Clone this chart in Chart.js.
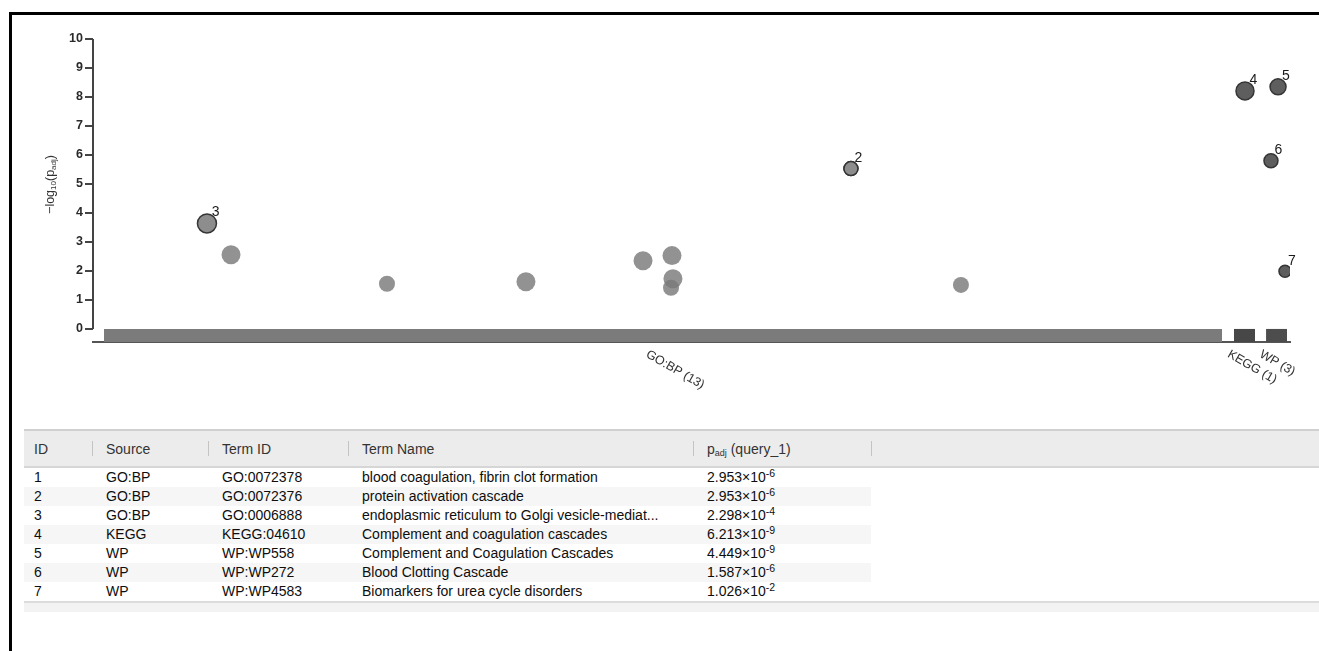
<!DOCTYPE html>
<html>
<head>
<meta charset="utf-8">
<script src="https://cdn.jsdelivr.net/npm/chart.js@4.4.1/dist/chart.umd.min.js"></script>
<style>
html, body { margin: 0; padding: 0; background: #fff; }
body { width: 1319px; height: 651px; position: relative; overflow: hidden; font-family: "Liberation Sans", Arial, Helvetica, sans-serif; }
#frameTop { position: absolute; left: 9px; top: 12px; right: 0; height: 3px; background: #000; }
#frameLeft { position: absolute; left: 9px; top: 12px; bottom: 0; width: 3px; background: #000; }
#chartBox { position: absolute; left: 0; top: 0; width: 1319px; height: 420px; }
#tbl { position: absolute; left: 24px; top: 429px; width: 1295px; border-collapse: collapse; font-size: 14px; color: #0e0e0e; table-layout: fixed; }
#tbl th { background: #ececec; font-weight: normal; color: #333; text-align: left; height: 35px; padding: 0 0 0 14px; border-top: 2px solid #d0d0d0; border-bottom: 2px solid #d6d6d6; position: relative; }
#tbl th.sep::before { content: ''; position: absolute; left: 0; top: 10px; bottom: 10px; border-left: 1px solid #c4c4c4; }
#tbl td { height: 19px; line-height: 17px; padding: 0 0 0 14px; white-space: nowrap; }
#tbl th:first-child, #tbl td:first-child { padding-left: 10px; }
#tbl tr.odd td.c { background: #f6f6f6; }
#tbl tr:last-child td { border-bottom: 2px solid #dcdcdc; }
#tbl sup { font-size: 10.5px; vertical-align: 5px; line-height: 0; }
#tbl sub { font-size: 9px; vertical-align: -2px; line-height: 0; }
#band { position: absolute; left: 24px; right: 0; height: 9px; background: #f3f3f3; }
</style>
</head>
<body>
<div id="frameTop"></div>
<div id="frameLeft"></div>
<div id="chartBox"><canvas id="manhattan" width="1319" height="420"></canvas></div>
<table id="tbl">
  <colgroup>
    <col style="width:68px"><col style="width:116px"><col style="width:140px"><col style="width:345px"><col style="width:178px"><col>
  </colgroup>
  <thead><tr id="headRow"></tr></thead>
  <tbody id="tblBody"></tbody>
</table>
<div id="band"></div>
<script>
// sources along the x axis (positions in % of axis length)
var sourceNames = ['GO:BP (13)', 'KEGG (1)', 'WP (3)'];
var sourceStart = [0.92, 95.32, 98.00];
var sourceEnd = [94.32, 97.08, 99.75];

// unlabelled GO:BP terms
var goX = [11.53, 24.56, 36.17, 45.95, 48.37, 48.45, 48.29, 72.51];
var goY = [2.56, 1.56, 1.63, 2.35, 2.53, 1.73, 1.42, 1.52];
var goSize = [9.5, 8, 9.5, 9.5, 9.5, 9.5, 8, 8];

// highlighted terms (IDs 1..7)
var termIds = ['1', '2', '3', '4', '5', '6', '7'];
var termX = [63.32, 63.32, 9.52, 96.24, 99.00, 98.41, 99.58];
var termY = [5.53, 5.53, 3.64, 8.21, 8.35, 5.80, 1.99];
var termSize = [7, 7, 9.5, 9, 8, 7, 6];
var termSource = ['GO:BP', 'GO:BP', 'GO:BP', 'KEGG', 'WP', 'WP', 'WP'];
var termId = ['GO:0072378', 'GO:0072376', 'GO:0006888', 'KEGG:04610', 'WP:WP558', 'WP:WP272', 'WP:WP4583'];
var termName = ['blood coagulation, fibrin clot formation', 'protein activation cascade',
    'endoplasmic reticulum to Golgi vesicle-mediat...', 'Complement and coagulation cascades',
    'Complement and Coagulation Cascades', 'Blood Clotting Cascade', 'Biomarkers for urea cycle disorders'];
var padjMant = ['2.953', '2.953', '2.298', '6.213', '4.449', '1.587', '1.026'];
var padjExp = ['-6', '-6', '-4', '-9', '-9', '-6', '-2'];

var yTicks = [0, 1, 2, 3, 4, 5, 6, 7, 8, 9, 10];
var headers = ['ID', 'Source', 'Term ID', 'Term Name', 'p<sub>adj</sub> (query_1)', ''];

var sourceColor = ['#7b7b7b', '#474747', '#4d4d4d'];

// ---- table
var head = document.getElementById('headRow');
headers.forEach(function (h, i) {
    var th = document.createElement('th');
    if (i > 0) th.className = 'sep';
    th.innerHTML = h;
    head.appendChild(th);
});
var body = document.getElementById('tblBody');
termIds.forEach(function (id, i) {
    var tr = document.createElement('tr');
    if (i % 2 === 1) tr.className = 'odd';
    var cells = [id, termSource[i], termId[i], termName[i], padjMant[i] + '×10<sup>' + padjExp[i] + '</sup>'];
    cells.forEach(function (c) {
        var td = document.createElement('td');
        td.className = 'c';
        td.innerHTML = c;
        tr.appendChild(td);
    });
    tr.appendChild(document.createElement('td'));
    body.appendChild(tr);
});
var tb = document.getElementById('tbl');
document.getElementById('band').style.top = (tb.offsetTop + tb.offsetHeight) + 'px';

// ---- chart
var FONT = '"Liberation Sans", Arial, sans-serif';
var datasets = [];

datasets.push({
    label: 'highlighted',
    data: termX.map(function (x, i) { return { x: x, y: termY[i] }; }),
    pointRadius: termSize,
    backgroundColor: termSource.map(function (s) { return s === 'GO:BP' ? '#8d8d8d' : '#5e5e5e'; }),
    borderColor: '#353535',
    borderWidth: 1.5
});
datasets.push({
    label: 'GO:BP',
    data: goX.map(function (x, i) { return { x: x, y: goY[i] }; }),
    pointRadius: goSize,
    backgroundColor: 'rgba(122,122,122,0.82)',
    borderWidth: 0
});
sourceNames.forEach(function (s, i) {
    datasets.push({
        type: 'line',
        label: s,
        data: [{ x: sourceStart[i], y: 0 }, { x: sourceEnd[i], y: 0 }],
        showLine: true,
        borderWidth: 0,
        pointRadius: 0,
        backgroundColor: sourceColor[i],
        fill: { value: -0.45 }
    });
});

var decorations = {
    id: 'decorations',
    afterDatasetsDraw: function (chart) {
        var ctx = chart.ctx, x = chart.scales.x, y = chart.scales.y, area = chart.chartArea;
        ctx.save();
        // y axis line from 0 to 10
        ctx.strokeStyle = '#444';
        ctx.lineWidth = 2;
        ctx.beginPath();
        ctx.moveTo(area.left, y.getPixelForValue(0));
        ctx.lineTo(area.left, y.getPixelForValue(10));
        ctx.stroke();

        // term id labels
        var meta = chart.getDatasetMeta(0);
        ctx.fillStyle = '#1a1a1a';
        ctx.font = '14px ' + FONT;
        ctx.textAlign = 'left';
        ctx.textBaseline = 'bottom';
        meta.data.forEach(function (el, i) {
            for (var j = i + 1; j < termX.length; j++) {
                if (termX[j] === termX[i] && termY[j] === termY[i]) return;
            }
            var r = termSize[i];
            ctx.fillText(termIds[i], el.x + r * 0.5, el.y - r * 0.45);
        });

        // source labels, rotated
        ctx.fillStyle = '#333';
        ctx.font = '12.5px ' + FONT;
        ctx.textBaseline = 'top';
        sourceNames.forEach(function (s, i) {
            var cx = x.getPixelForValue((sourceStart[i] + sourceEnd[i]) / 2);
            ctx.save();
            ctx.translate(cx - 13, area.bottom + 6);
            ctx.rotate(30 * Math.PI / 180);
            ctx.fillText(s, 0, 0);
            ctx.restore();
        });

        // y axis title: -log10(padj)
        ctx.save();
        ctx.translate(51, (area.top + area.bottom) / 2 - 6);
        ctx.rotate(-Math.PI / 2);
        var parts = [['−log', 12.5, 0], ['10', 8, 3], ['(p', 12.5, 0], ['adj', 8, 3], [')', 12.5, 0]];
        var total = 0;
        parts.forEach(function (p) { ctx.font = p[1] + 'px ' + FONT; total += ctx.measureText(p[0]).width; });
        var pos = -total / 2;
        ctx.textAlign = 'left';
        ctx.textBaseline = 'middle';
        ctx.fillStyle = '#333';
        parts.forEach(function (p) {
            ctx.font = p[1] + 'px ' + FONT;
            ctx.fillText(p[0], pos, p[2]);
            pos += ctx.measureText(p[0]).width;
        });
        ctx.restore();
        ctx.restore();
    }
};

new Chart(document.getElementById('manhattan'), {
    type: 'scatter',
    data: { datasets: datasets },
    options: {
        responsive: false,
        animation: false,
        devicePixelRatio: 1,
        events: [],
        layout: { padding: { top: 39, right: 29, bottom: 0, left: 0 } },
        plugins: { legend: { display: false }, tooltip: { enabled: false } },
        scales: {
            x: {
                type: 'linear', min: 0, max: 100,
                ticks: { display: false },
                grid: { display: false },
                border: { display: true, color: '#555', width: 2 },
                afterFit: function (s) { s.height = 78; }
            },
            y: {
                min: -0.45, max: 10,
                afterBuildTicks: function (s) { s.ticks = yTicks.map(function (v) { return { value: v }; }); },
                ticks: { color: '#2a2a2a', padding: 2, font: { family: FONT, size: 12.5, weight: 'bold' } },
                grid: { drawOnChartArea: false, tickLength: 8, color: '#444', lineWidth: 2 },
                border: { display: false },
                afterFit: function (s) { s.width = 93; }
            }
        }
    },
    plugins: [decorations]
});
</script>
</body>
</html>
